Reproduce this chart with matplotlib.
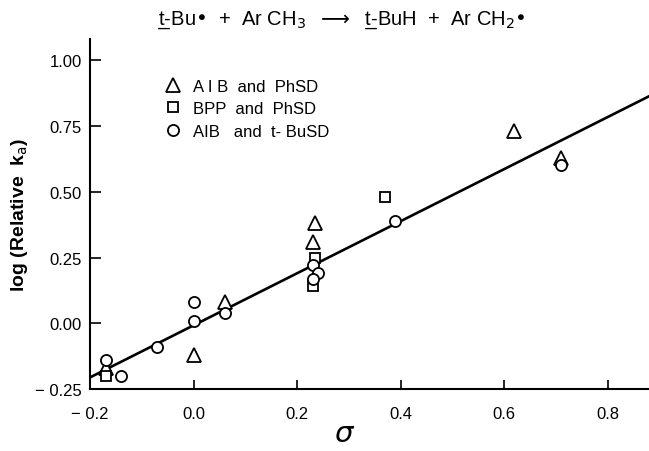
import matplotlib
matplotlib.use("Agg")
import matplotlib.pyplot as plt
import numpy as np

plt.rcParams['font.family'] = ['Liberation Sans', 'DejaVu Sans']

# Data (sigma, log relative k)
tri_sigma = [-0.17, 0.00, 0.06, 0.23, 0.235, 0.62, 0.71]
tri_logk = [-0.17, -0.12, 0.08, 0.31, 0.38, 0.73, 0.63]

sq_sigma = [-0.17, 0.235, 0.23, 0.37]
sq_logk = [-0.20, 0.25, 0.14, 0.48]

circ_sigma = [-0.17, -0.14, -0.07, 0.00, 0.00, 0.06, 0.23, 0.24, 0.23, 0.39, 0.71]
circ_logk = [-0.14, -0.20, -0.09, 0.08, 0.01, 0.04, 0.22, 0.19, 0.17, 0.39, 0.60]

fit_rho = 0.99
fit_intercept = -0.008
fit_range = [-0.2, 0.88]

xticks = [-0.2, 0.0, 0.2, 0.4, 0.6, 0.8]
xticklabels = ["\u2212 0.2", "0.0", "0.2", "0.4", "0.6", "0.8"]
yticks = [-0.25, 0.0, 0.25, 0.5, 0.75, 1.0]
yticklabels = ["\u2212 0.25", "0.00", "0.25", "0.50", "0.75", "1.00"]

fig = plt.figure(figsize=(6.49, 4.52), dpi=100)
ax = fig.add_axes([90/649, 1-390/452, 559/649, 350/452])

fx = np.array(fit_range)
ax.plot(fx, fit_rho*fx + fit_intercept, color='black', lw=1.9, zorder=2)

mk = dict(linestyle='none', markerfacecolor='white', markeredgecolor='black',
          markeredgewidth=1.3, zorder=3)
ax.plot(tri_sigma, tri_logk, marker='^', markersize=9.5, label='A I B  and  PhSD', **mk)
ax.plot(sq_sigma, sq_logk, marker='s', markersize=6.5, label='BPP  and  PhSD', **mk)
ax.plot(circ_sigma, circ_logk, marker='o', markersize=8, label='AIB   and  t- BuSD', **mk)

ax.set_xlim(-0.2, 0.88)
ax.set_ylim(-0.25, 1.081)
ax.set_xticks(xticks)
ax.set_xticklabels(xticklabels)
ax.set_yticks(yticks)
ax.set_yticklabels(yticklabels)
ax.tick_params(axis='x', direction='in', length=6.5, width=1.2, labelsize=12, pad=12)
ax.tick_params(axis='y', direction='in', length=8, width=1.2, labelsize=12, pad=6)
for s in ['top', 'right']:
    ax.spines[s].set_visible(False)
for s in ['left', 'bottom']:
    ax.spines[s].set_linewidth(1.5)

ax.set_xlabel('$\\sigma$', fontsize=21)
ax.xaxis.set_label_coords((345-90)/559, -(420-390)/350)
ax.set_ylabel('log (Relative  k$_{\\mathrm{a}}$)', fontsize=14, fontweight='bold')
ax.yaxis.set_label_coords(-(90-30)/559, 0.5)

fig.text(342/649, 1-20/452,
         't\u0332-Bu\u2022  +  Ar CH$_3$  $\\longrightarrow$  t\u0332-BuH  +  Ar CH$_2$\u2022',
         ha='center', va='center', fontsize=14.5)

leg = ax.legend(loc='upper left', bbox_to_anchor=(158/649, 1-73/452),
                bbox_transform=fig.transFigure, frameon=False, fontsize=12,
                handletextpad=0.7, labelspacing=0.45, borderaxespad=0, handlelength=1.0)

fig.savefig('out.png', dpi=100)
